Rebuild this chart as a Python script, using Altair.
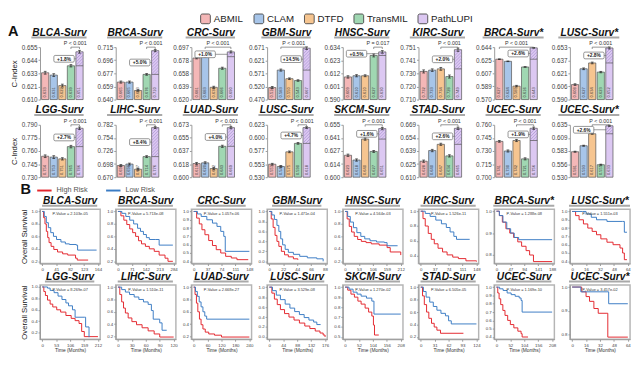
import numpy as np
import pandas as pd
import altair as alt

FONT = "Liberation Sans"

# ---------------- data: panel A (C-Index bars) ----------------
METHODS = ["ABMIL", "CLAM", "DTFD", "TransMIL", "PathLUPI"]
COLORS = ["#f4b7b7", "#a7c5e9", "#f6c590", "#a0d7b2", "#dcc8f2"]
TASKS = ["BLCA-Surv", "BRCA-Surv", "CRC-Surv", "GBM-Surv", "HNSC-Surv", "KIRC-Surv",
         "BRCA-Surv*", "LUSC-Surv*", "LGG-Surv", "LIHC-Surv", "LUAD-Surv", "LUSC-Surv",
         "SKCM-Surv", "STAD-Surv", "UCEC-Surv", "UCEC-Surv*"]
AXIS_LO = [0.610, 0.640, 0.620, 0.470, 0.590, 0.710, 0.570, 0.590,
           0.730, 0.670, 0.600, 0.530, 0.600, 0.610, 0.700, 0.530]
AXIS_HI = [0.655, 0.715, 0.697, 0.671, 0.634, 0.751, 0.644, 0.653,
           0.790, 0.782, 0.673, 0.623, 0.655, 0.669, 0.760, 0.635]
CINDEX = [
    [0.633, 0.631, 0.622, 0.639, 0.651],
    [0.665, 0.665, 0.653, 0.676, 0.710],
    [0.681, 0.683, 0.638, 0.666, 0.690],
    [0.516, 0.583, 0.550, 0.543, 0.667],
    [0.609, 0.610, 0.610, 0.627, 0.630],
    [0.732, 0.733, 0.734, 0.728, 0.749],
    [0.627, 0.624, 0.589, 0.616, 0.643],
    [0.608, 0.627, 0.634, 0.623, 0.652],
    [0.754, 0.753, 0.751, 0.765, 0.786],
    [0.695, 0.698, 0.687, 0.714, 0.776],
    [0.619, 0.620, 0.612, 0.643, 0.669],
    [0.553, 0.549, 0.575, 0.590, 0.618],
    [0.623, 0.618, 0.640, 0.627, 0.651],
    [0.628, 0.640, 0.647, 0.634, 0.665],
    [0.741, 0.730, 0.742, 0.721, 0.756],
    [0.581, 0.593, 0.617, 0.555, 0.633],
]
CI_ERR = [
    [0.0012, 0.0012, 0.0012, 0.0010, 0.0012],
    [0.0015, 0.0015, 0.0012, 0.0012, 0.0015],
    [0.0012, 0.0012, 0.0015, 0.0015, 0.0015],
    [0.0040, 0.0040, 0.0030, 0.0030, 0.0050],
    [0.0010, 0.0009, 0.0008, 0.0012, 0.0011],
    [0.0012, 0.0010, 0.0011, 0.0012, 0.0013],
    [0.0004, 0.0004, 0.0010, 0.0004, 0.0005],
    [0.0010, 0.0010, 0.0010, 0.0008, 0.0012],
    [0.0015, 0.0016, 0.0013, 0.0014, 0.0014],
    [0.0020, 0.0020, 0.0020, 0.0020, 0.0020],
    [0.0015, 0.0015, 0.0015, 0.0015, 0.0015],
    [0.0015, 0.0015, 0.0015, 0.0015, 0.0015],
    [0.0012, 0.0012, 0.0012, 0.0010, 0.0012],
    [0.0013, 0.0013, 0.0012, 0.0013, 0.0013],
    [0.0010, 0.0012, 0.0012, 0.0012, 0.0013],
    [0.0010, 0.0010, 0.0010, 0.0010, 0.0012],
]
GAIN = ["+1.8%", "+5.0%", "+1.0%", "+14.5%", "+0.5%", "+2.0%", "+2.6%", "+2.8%",
        "+2.7%", "+8.4%", "+4.0%", "+4.7%", "+1.6%", "+2.6%", "+1.9%", "+2.6%"]
PTEXT = ["P < 0.001", "P < 0.001", "P < 0.001", "P < 0.001", "P = 0.017", "P < 0.001",
         "P < 0.001", "P < 0.001", "P < 0.001", "P < 0.001", "P < 0.001", "P < 0.001",
         "P < 0.001", "P < 0.001", "P < 0.001", "P < 0.001"]

# ---------------- data: panel B (Kaplan-Meier) ----------------
RISK = ["High Risk", "Low Risk"]
RISK_COLORS = ["#e3262d", "#3b7cc4"]
KM_TMAX = [164, 284, 148, 88, 212, 148, 188, 64, 212, 120, 240, 176, 208, 124, 208, 64]
KM_YMIN = [0.2, 0.2, 0.4, 0.0, 0.2, 0.4, 0.8, 0.4, 0.2, 0.2, 0.2, 0.0, 0.5, 0.2, 0.4, 0.8]
KM_YSTEP = [0.2, 0.2, 0.1, 0.2, 0.2, 0.2, 0.1, 0.1, 0.2, 0.2, 0.2, 0.2, 0.1, 0.2, 0.1, 0.1]
KM_P = ["P-Value = 2.103e-05", "P-Value = 5.713e-08", "P-Value = 1.057e-06", "P-Value = 1.471e-04",
        "P-Value = 4.564e-03", "P-Value = 1.526e-11", "P-Value = 1.288e-08", "P-Value = 1.551e-03",
        "P-Value = 8.269e-07", "P-Value = 1.510e-11", "P-Value = 2.668e-27", "P-Value = 3.529e-08",
        "P-Value = 1.270e-02", "P-Value = 6.505e-05", "P-Value = 1.169e-10", "P-Value = 3.457e-02"]
KM_HIGH = [
    [(0, 1), (4, 0.9), (8, 0.8), (12, 0.68), (16, 0.58), (20, 0.5), (26, 0.44), (34, 0.39), (45, 0.35),
     (60, 0.32), (75, 0.3), (98, 0.25), (103, 0.22), (135, 0.22)],
    [(0, 1), (15, 0.93), (30, 0.86), (45, 0.79), (60, 0.72), (75, 0.66), (90, 0.6), (105, 0.53), (120, 0.48),
     (140, 0.44), (160, 0.4), (185, 0.36), (210, 0.3), (240, 0.25), (255, 0.2), (280, 0.2)],
    [(0, 1), (8, 0.92), (15, 0.85), (22, 0.78), (30, 0.72), (40, 0.65), (50, 0.59), (60, 0.54), (72, 0.5),
     (85, 0.46), (100, 0.44), (115, 0.42), (145, 0.42)],
    [(0, 1), (3, 0.85), (6, 0.68), (9, 0.52), (12, 0.4), (15, 0.3), (19, 0.2), (24, 0.13), (30, 0.09),
     (38, 0.05), (45, 0.03)],
    [(0, 1), (8, 0.88), (16, 0.76), (25, 0.67), (35, 0.6), (48, 0.55), (62, 0.52), (80, 0.5), (100, 0.48),
     (130, 0.46), (160, 0.42), (172, 0.35), (212, 0.3)],
    [(0, 1), (6, 0.9), (12, 0.8), (20, 0.7), (28, 0.62), (36, 0.56), (46, 0.5), (58, 0.45), (70, 0.41),
     (85, 0.38), (100, 0.36), (120, 0.33), (148, 0.32)],
    [(0, 1), (10, 0.98), (20, 0.95), (32, 0.92), (45, 0.9), (58, 0.88), (72, 0.86), (85, 0.84), (100, 0.82),
     (112, 0.8), (125, 0.77), (188, 0.77)],
    [(0, 1), (4, 0.95), (8, 0.9), (13, 0.85), (18, 0.8), (23, 0.76), (28, 0.72), (33, 0.67), (40, 0.63),
     (47, 0.6), (55, 0.56), (58, 0.5), (60, 0.42), (63, 0.42)],
    [(0, 1), (6, 0.92), (12, 0.85), (20, 0.77), (30, 0.7), (40, 0.65), (55, 0.6), (70, 0.56), (90, 0.5),
     (110, 0.45), (125, 0.41), (140, 0.36), (150, 0.22), (160, 0.13), (212, 0.13)],
    [(0, 1), (4, 0.88), (8, 0.76), (12, 0.66), (16, 0.58), (22, 0.5), (30, 0.44), (40, 0.39), (52, 0.34),
     (65, 0.29), (78, 0.24), (90, 0.19), (120, 0.19)],
    [(0, 1), (6, 0.88), (12, 0.74), (18, 0.6), (25, 0.48), (32, 0.39), (40, 0.32), (50, 0.27), (65, 0.24),
     (90, 0.22), (120, 0.19), (240, 0.19)],
    [(0, 1), (8, 0.88), (16, 0.76), (25, 0.65), (35, 0.55), (48, 0.47), (62, 0.4), (78, 0.34), (95, 0.28),
     (112, 0.22), (128, 0.17), (145, 0.12), (160, 0.08), (170, 0.04), (176, 0.0)],
    [(0, 1), (10, 0.97), (22, 0.93), (35, 0.9), (48, 0.86), (60, 0.83), (75, 0.79), (88, 0.75), (100, 0.71),
     (106, 0.62), (110, 0.52), (126, 0.52)],
    [(0, 1), (4, 0.86), (8, 0.72), (13, 0.6), (18, 0.5), (24, 0.42), (30, 0.36), (36, 0.31), (44, 0.26),
     (95, 0.26)],
    [(0, 1), (5, 0.93), (10, 0.86), (16, 0.79), (24, 0.72), (32, 0.66), (42, 0.6), (52, 0.55), (65, 0.51),
     (80, 0.47), (92, 0.44), (96, 0.4), (118, 0.4)],
    [(0, 1), (8, 1.0), (11, 0.98), (16, 0.96), (20, 0.94), (25, 0.91), (30, 0.89), (40, 0.89), (41, 0.79),
     (64, 0.79)],
]
KM_LOW = [
    [(0, 1), (6, 0.92), (12, 0.82), (18, 0.74), (25, 0.66), (33, 0.6), (42, 0.55), (55, 0.51), (68, 0.48),
     (80, 0.47), (100, 0.46), (104, 0.38), (160, 0.38)],
    [(0, 1), (20, 0.97), (40, 0.92), (60, 0.86), (80, 0.8), (100, 0.73), (115, 0.68), (130, 0.63), (145, 0.58),
     (160, 0.55), (190, 0.55), (210, 0.46), (280, 0.46)],
    [(0, 1), (10, 0.97), (20, 0.94), (35, 0.9), (50, 0.86), (62, 0.82), (72, 0.76), (80, 0.7), (84, 0.52),
     (148, 0.52)],
    [(0, 1), (4, 0.93), (8, 0.84), (12, 0.72), (15, 0.6), (18, 0.45), (21, 0.33), (25, 0.24), (30, 0.18),
     (38, 0.14), (48, 0.1), (60, 0.07), (75, 0.05), (85, 0.0)],
    [(0, 1), (10, 0.92), (20, 0.83), (32, 0.74), (45, 0.66), (60, 0.6), (75, 0.56), (95, 0.53), (120, 0.51),
     (150, 0.5), (160, 0.45), (200, 0.45)],
    [(0, 1), (12, 0.97), (25, 0.93), (40, 0.88), (55, 0.83), (68, 0.78), (78, 0.72), (88, 0.66), (95, 0.62),
     (130, 0.62)],
    [(0, 1), (10, 0.98), (22, 0.95), (35, 0.92), (48, 0.9), (60, 0.88), (75, 0.87), (188, 0.87)],
    [(0, 1), (12, 1.0), (16, 0.97), (22, 0.93), (28, 0.9), (40, 0.88), (58, 0.88), (60, 0.75), (63, 0.75)],
    [(0, 1), (20, 0.98), (30, 0.94), (45, 0.9), (60, 0.84), (75, 0.78), (90, 0.72), (100, 0.67), (115, 0.6),
     (125, 0.47), (160, 0.47), (165, 0.3), (178, 0.12)],
    [(0, 1), (8, 0.96), (16, 0.92), (25, 0.88), (35, 0.84), (45, 0.8), (55, 0.76), (65, 0.72), (72, 0.62),
     (76, 0.48), (90, 0.42), (95, 0.3), (105, 0.3)],
    [(0, 1), (8, 0.93), (16, 0.85), (24, 0.76), (32, 0.68), (40, 0.6), (48, 0.53), (56, 0.48), (240, 0.48)],
    [(0, 1), (10, 0.93), (22, 0.84), (35, 0.75), (50, 0.66), (65, 0.58), (80, 0.51), (95, 0.45), (110, 0.39),
     (125, 0.34), (140, 0.3), (150, 0.25), (162, 0.25)],
    [(0, 1), (15, 0.98), (30, 0.95), (45, 0.93), (60, 0.91), (80, 0.89), (100, 0.86), (108, 0.73), (208, 0.73)],
    [(0, 1), (6, 0.93), (12, 0.84), (20, 0.76), (28, 0.69), (36, 0.63), (45, 0.58), (55, 0.54), (62, 0.46),
     (68, 0.41), (124, 0.41)],
    [(0, 1), (12, 0.98), (25, 0.96), (40, 0.93), (55, 0.91), (70, 0.89), (85, 0.87), (92, 0.84), (96, 0.7),
     (208, 0.7)],
    [(0, 1), (10, 0.98), (40, 0.98), (42, 0.93), (64, 0.93)],
]

# ---------------- layout constants ----------------
BW, BH = 46, 54            # bar panel plot size
KW = 62                    # KM panel plot width
KH_TOP, KH_BOT = 56, 56    # KM panel plot heights (row 1 / row 2)
TFS = 10.5                 # panel heading font size
ONE = pd.DataFrame({"a": [0]})
BOX = ("M-0.88,-0.33H0.88A0.12,0.12 0 0 1 1,-0.21V0.21A0.12,0.12 0 0 1 0.88,0.33"
       "H-0.88A0.12,0.12 0 0 1 -1,0.21V-0.21A0.12,0.12 0 0 1 -0.88,-0.33Z")
RSQ = ("M-0.65,-1H0.65A0.35,0.35 0 0 1 1,-0.65V0.65A0.35,0.35 0 0 1 0.65,1"
       "H-0.65A0.35,0.35 0 0 1 -1,0.65V-0.65A0.35,0.35 0 0 1 -0.65,-1Z")


def heading(text, width, dx, y):
    """Panel heading drawn as text plus a grey underline bar."""
    L = 0.57 * TFS * len(text)
    cx = width / 2 + dx
    line = alt.Chart(ONE).mark_rule(stroke="#a9a9a9", strokeWidth=2).encode(
        x=alt.value(cx - L / 2 - 2), x2=alt.value(cx + L / 2 + 1), y=alt.value(y + 2))
    txt = alt.Chart(ONE).mark_text(text=text, fontSize=TFS, fontWeight="bold", fontStyle="italic",
                                   baseline="alphabetic", align="center", color="#111").encode(
        x=alt.value(cx), y=alt.value(y))
    return [line, txt]


def bar_panel(k, first_col, first_row):
    lo, hi = AXIS_LO[k], AXIS_HI[k]
    rng = hi - lo
    vals = CINDEX[k]
    errs = CI_ERR[k]
    best = int(np.argmax(vals[:4]))
    base, top = vals[best], vals[4]

    xsc = alt.Scale(domain=[-0.6, 4.6], nice=False, zero=False)
    ysc = alt.Scale(domain=[lo, hi], nice=False, zero=False)
    ax = dict(values=[float(v) for v in np.linspace(lo, hi, 5)], format=".3f", labelFontSize=6.5,
              labelColor="#444", tickSize=2, tickColor="#999", domainColor="#999", labelPadding=1,
              grid=False)
    if first_col:
        ax.update(title="C-Index", titleFontSize=8, titleFontWeight="normal", titlePadding=3,
                  titleColor="#222")
    else:
        ax.update(title=None)
    X = alt.X("x:Q", scale=xsc, axis=None)
    Y = alt.Y("y:Q", scale=ysc, axis=alt.Axis(**ax))
    X2 = alt.X2("x2:Q")
    Y2 = alt.Y2("y2:Q")

    idx = list(range(5))
    bars = pd.DataFrame({"x": [i - 0.42 for i in idx], "x2": [i + 0.42 for i in idx],
                         "y": vals, "y2": [lo] * 5, "c": COLORS})
    layers = [alt.Chart(bars).mark_rect(stroke="#505050", strokeWidth=0.7).encode(
        x=X, x2=X2, y=Y, y2=Y2, fill=alt.Fill("c:N", scale=None))]

    # hatching of the gain region on the PathLUPI bar
    w_px = 0.84 * BW / 5.2
    h_px = (top - base) / rng * BH
    segs = []
    c = -w_px + 1.5
    while c < h_px:
        xs, xe = max(0.0, -c), min(w_px, h_px - c)
        if xe > xs:
            segs.append({"x": 3.58 + xs / w_px * 0.84, "x2": 3.58 + xe / w_px * 0.84,
                         "y": base + (xs + c) / BH * rng, "y2": base + (xe + c) / BH * rng})
        c += 3.2
    if segs:
        layers.append(alt.Chart(pd.DataFrame(segs)).mark_rule(stroke="#9f86cc", strokeWidth=0.6).encode(
            x=X, x2=X2, y=Y, y2=Y2))
    layers.append(alt.Chart(pd.DataFrame({"x": [3.58], "x2": [4.42], "y": [base]})).mark_rule(
        stroke="#555", strokeWidth=0.7).encode(x=X, x2=X2, y=Y))

    # error bars
    eb = pd.DataFrame({"x": idx, "y": [v - e for v, e in zip(vals, errs)],
                       "y2": [v + e for v, e in zip(vals, errs)]})
    layers.append(alt.Chart(eb).mark_rule(stroke="#222", strokeWidth=0.7).encode(x=X, y=Y, y2=Y2))
    caps = pd.DataFrame({"x": [i - 0.16 for i in idx] * 2, "x2": [i + 0.16 for i in idx] * 2,
                         "y": list(eb["y"]) + list(eb["y2"])})
    layers.append(alt.Chart(caps).mark_rule(stroke="#222", strokeWidth=0.7).encode(x=X, x2=X2, y=Y))

    # value labels inside bars
    lab = pd.DataFrame({"x": idx, "y": [lo + 0.04 * rng] * 5, "t": [f"{v:.3f}" for v in vals]})
    layers.append(alt.Chart(lab).mark_text(angle=270, align="left", baseline="middle", fontSize=4.2,
                                           color="#333").encode(x=X, y=Y, text="t:N"))

    # significance bracket
    br = pd.DataFrame({"x": [best], "x2": [4], "y": [hi]})
    layers.append(alt.Chart(br).mark_rule(stroke="#666", strokeWidth=0.7).encode(x=X, x2=X2, y=Y))
    tk = pd.DataFrame({"x": [best, 4], "y": [hi] * 2, "y2": [hi - 0.035 * rng] * 2})
    layers.append(alt.Chart(tk).mark_rule(stroke="#666", strokeWidth=0.7).encode(x=X, y=Y, y2=Y2))
    pt = pd.DataFrame({"x": [(best + 4) / 2], "y": [hi], "t": [PTEXT[k]]})
    layers.append(alt.Chart(pt).mark_text(baseline="bottom", dy=-1, fontSize=5.5, color="#333").encode(
        x=X, y=Y, text="t:N"))

    # gain callout
    yb = (base + top) / 2
    hb = 3.6 / BH * rng
    xb = 2.2
    if max(vals[1:4]) + hb * 1.2 > yb:
        xb = 1.0
    con = pd.DataFrame({"x": [xb], "x2": [3.58], "y": [yb]})
    layers.append(alt.Chart(con).mark_rule(stroke="#555", strokeWidth=0.6).encode(x=X, x2=X2, y=Y))
    bx = pd.DataFrame({"x": [xb], "y": [yb], "t": [GAIN[k]]})
    layers.append(alt.Chart(bx).mark_point(shape=BOX, size=441, filled=True, fill="white", stroke="#666",
                                           strokeWidth=0.7, opacity=1).encode(x=X, y=Y))
    layers.append(alt.Chart(bx).mark_text(fontSize=5, fontWeight="bold", color="#222").encode(
        x=X, y=Y, text="t:N"))

    layers += heading(TASKS[k], BW, -3, -12)

    if first_col and first_row:
        layers.append(alt.Chart(ONE).mark_text(text="A", fontSize=15, fontWeight="bold", align="left",
                                               baseline="alphabetic", color="#111").encode(
            x=alt.value(-33), y=alt.value(-12)))
        lg = pd.DataFrame({"x": [-5.0] * 5, "y": [lo] * 5, "m": METHODS})
        layers.append(alt.Chart(lg).mark_square(clip=True, size=20, stroke="#444", strokeWidth=0.8,
                                                opacity=1).encode(
            x=X, y=Y,
            color=alt.Color("m:N", scale=alt.Scale(domain=METHODS, range=COLORS),
                            legend=alt.Legend(orient="none", legendX=165, legendY=-35,
                                              direction="horizontal", title=None, symbolType=RSQ,
                                              symbolSize=100, symbolStrokeColor="#444",
                                              symbolStrokeWidth=0.9, symbolOpacity=1,
                                              labelFontSize=10, labelFont=FONT, labelColor="#222",
                                              columnPadding=8, labelOffset=3, padding=0))))

    return alt.layer(*layers).properties(width=BW, height=BH)


def km_panel(k, first_col, first_row, bottom_row):
    tmax = KM_TMAX[k]
    ymin, step = KM_YMIN[k], KM_YSTEP[k]
    curves = [KM_HIGH[k], KM_LOW[k]]
    allmin = min(s for cv in curves for _, s in cv)
    pad = 0.045 * (1 - ymin)
    dlo, dhi = min(ymin, allmin) - pad, 1 + pad
    xsc = alt.Scale(domain=[-0.04 * tmax, 1.04 * tmax], nice=False, zero=False)
    ysc = alt.Scale(domain=[dlo, dhi], nice=False, zero=False)
    xt = [int(round(tmax * j / 4)) for j in range(5)]
    nt = int(round((1 - ymin) / step))
    yt = [round(ymin + j * step, 2) for j in range(nt + 1)]
    xa = dict(values=xt, format="d", labelFontSize=4.5, labelColor="#444", tickSize=2, tickColor="#999",
              domainColor="#999", labelPadding=1, grid=False)
    if bottom_row:
        xa.update(title="Time (Months)", titleFontSize=5, titleFontWeight="normal", titlePadding=1,
                  titleColor="#333")
    else:
        xa.update(title=None)
    ya = dict(values=yt, format=".1f", labelFontSize=4.5, labelColor="#444", tickSize=2, tickColor="#999",
              domainColor="#999", labelPadding=1, grid=False)
    if first_col:
        ya.update(title="Overall Survival", titleFontSize=8, titleFontWeight="normal", titlePadding=3,
                  titleColor="#222")
    else:
        ya.update(title=None)
    X = alt.X("x:Q", scale=xsc, axis=alt.Axis(**xa))
    Y = alt.Y("y:Q", scale=ysc, axis=alt.Axis(**ya))

    rows = []
    for g, cv in enumerate(curves):
        for t, s in cv:
            rows.append({"x": t, "y": s, "g": RISK[g], "c": RISK_COLORS[g]})
    df = pd.DataFrame(rows)
    layers = [alt.Chart(df).mark_line(interpolate="step-after", strokeWidth=1, clip=True).encode(
        x=X, y=Y, color=alt.Color("c:N", scale=None), detail="g:N")]
    pv = pd.DataFrame({"x": [tmax / 2], "y": [dhi], "t": [KM_P[k]]})
    layers.append(alt.Chart(pv).mark_text(baseline="top", dy=3, fontSize=4, color="#333").encode(
        x=X, y=Y, text="t:N"))
    layers += heading(TASKS[k], KW, 0, -5.5)

    if first_col and first_row:
        layers.append(alt.Chart(ONE).mark_text(text="B", fontSize=15, fontWeight="bold", align="left",
                                               baseline="alphabetic", color="#111").encode(
            x=alt.value(-20), y=alt.value(-16)))
        lg = pd.DataFrame({"x": [-1000.0, -999.0], "y": [0.5, 0.5], "g": RISK})
        layers.append(alt.Chart(lg).mark_line(clip=True).encode(
            x=X, y=Y,
            stroke=alt.Stroke("g:N", scale=alt.Scale(domain=RISK, range=RISK_COLORS),
                              legend=alt.Legend(orient="none", legendX=-4, legendY=-28,
                                                direction="horizontal", title=None, symbolType="stroke",
                                                symbolSize=220, symbolStrokeWidth=2, labelFontSize=7.5,
                                                labelFont=FONT, labelColor="#555", columnPadding=14,
                                                labelOffset=4, padding=0))))

    return alt.layer(*layers).properties(
        width=KW, height=KH_TOP if first_row else KH_BOT,
        view=alt.ViewBackground(stroke="#b5b5b5", strokeWidth=1.5))


blockA = alt.concat(
    *[bar_panel(k, k % 8 == 0, k < 8) for k in range(16)],
    columns=8, spacing=alt.RowColnumber(row=26, column=32), bounds="flush"
).resolve_scale(color="independent", stroke="independent")

blockB = alt.concat(
    *[km_panel(k, k % 8 == 0, k < 8, k >= 8) for k in range(16)],
    columns=8, spacing=alt.RowColnumber(row=22, column=16), bounds="flush"
).resolve_scale(color="independent", stroke="independent")

chart = alt.vconcat(blockA, blockB, spacing=0).resolve_scale(
    color="independent", stroke="independent"
).properties(padding=0).configure(font=FONT).configure_view(strokeWidth=0)

chart.save("out.html", embed_options={"renderer": "svg", "actions": False})
